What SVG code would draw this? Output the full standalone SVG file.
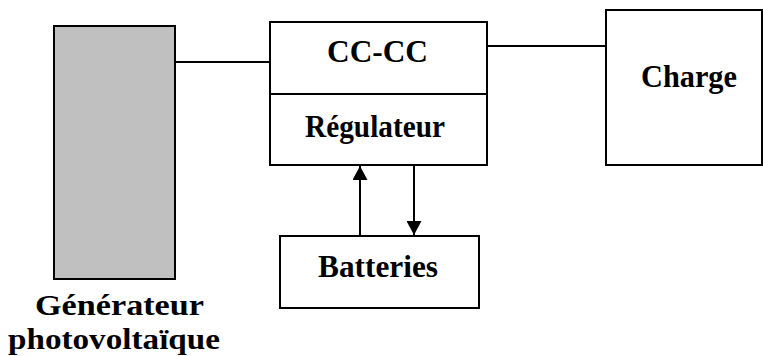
<svg xmlns="http://www.w3.org/2000/svg" width="763" height="356" viewBox="0 0 763 356">
<style>
.box{fill:#fff;stroke:#000;stroke-width:2}
.ln{stroke:#000;stroke-width:2;fill:none}
.t{font-family:"Liberation Serif","Times New Roman",serif;font-weight:bold;font-size:32.5px;fill:#000;text-anchor:middle}
.s{font-size:29px}
</style>
<defs>
<marker id="ah" markerWidth="14" markerHeight="15" refX="14" refY="7.5" orient="auto" markerUnits="userSpaceOnUse">
<path d="M0,0 L14,7.5 L0,15 Z" fill="#000"/>
</marker>
</defs>
<rect width="763" height="356" fill="#fff"/>
<g id="generateur">
<rect x="54" y="26" width="121" height="253" fill="#c0c0c0" stroke="#000" stroke-width="2"/>
<text class="t s" x="119.5" y="315" textLength="169" lengthAdjust="spacingAndGlyphs">Générateur</text>
<text class="t s" x="114" y="349" textLength="212" lengthAdjust="spacingAndGlyphs">photovoltaïque</text>
</g>
<g id="regulateur">
<rect class="box" x="270" y="22" width="217" height="143"/>
<line class="ln" x1="270" y1="94" x2="487" y2="94"/>
<text class="t" x="377.5" y="62" textLength="101" lengthAdjust="spacingAndGlyphs">CC-CC</text>
<text class="t" x="375" y="137" textLength="140" lengthAdjust="spacingAndGlyphs">Régulateur</text>
</g>
<g id="charge">
<rect class="box" x="606" y="10" width="156" height="155"/>
<text class="t" x="689" y="87" textLength="96" lengthAdjust="spacingAndGlyphs">Charge</text>
</g>
<g id="batteries">
<rect class="box" x="280" y="236" width="199" height="72"/>
<text class="t" x="378" y="277" textLength="120" lengthAdjust="spacingAndGlyphs">Batteries</text>
</g>
<g id="connectors">
<line class="ln" x1="175" y1="62" x2="270" y2="62"/>
<line class="ln" x1="487" y1="46" x2="606" y2="46"/>
<line class="ln" x1="360" y1="236" x2="360" y2="166" marker-end="url(#ah)"/>
<line class="ln" x1="414" y1="165" x2="414" y2="235" marker-end="url(#ah)"/>
</g>
</svg>
